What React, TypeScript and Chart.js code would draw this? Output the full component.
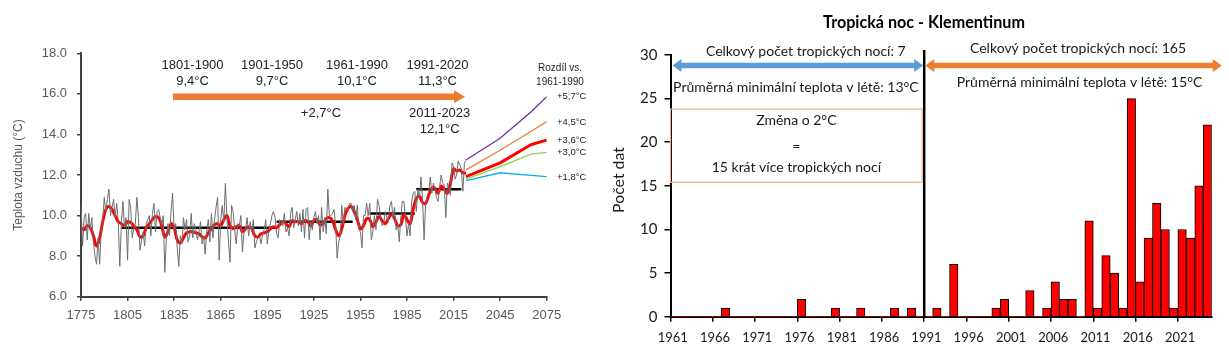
import React, { useEffect, useRef } from "react";
import { Chart, registerables } from "chart.js";

Chart.register(...registerables);

// ---------------- LEFT CHART DATA ----------------
const ANNUAL_START = 1775;
const annualTemp = [
  10.5, 8.5, 9.9, 10.1, 8.8, 10.1, 9.3, 9.9, 8.7, 8.0,
  7.6, 8.9, 7.6, 9.2, 9.8, 10.9, 10.2, 10.8, 11.3, 10.0,
  10.4, 10.8, 9.9, 10.6, 9.7, 7.5, 9.6, 10.7, 9.4, 9.9,
  7.8, 10.8, 10.4, 8.9, 9.4, 9.6, 10.9, 9.9, 8.3, 8.8,
  9.2, 8.5, 9.6, 9.8, 10.0, 9.0, 10.1, 10.6, 9.2, 10.2,
  10.3, 9.9, 9.5, 10.0, 7.2, 8.9, 9.6, 9.0, 10.2, 11.1,
  9.3, 9.6, 8.4, 7.5, 9.0, 8.6, 9.9, 9.3, 9.8, 8.7,
  9.0, 10.1, 8.9, 9.6, 9.3, 8.8, 9.2, 9.7, 8.6, 9.0,
  8.1, 9.2, 9.8, 8.7, 10.1, 8.9, 9.8, 10.4, 10.9, 7.8,
  9.8, 10.5, 9.7, 11.6, 9.9, 8.7, 7.7, 10.5, 10.2, 9.3,
  8.6, 9.6, 9.5, 10.0, 8.2, 9.2, 9.3, 9.9, 9.0, 9.7,
  9.2, 9.8, 8.4, 8.7, 8.9, 9.0, 8.6, 9.1, 9.3, 9.8,
  8.6, 9.2, 9.6, 10.0, 10.2, 9.9, 9.1, 8.9, 9.8, 9.7,
  9.5, 10.1, 9.2, 9.4, 9.0, 10.1, 10.4, 9.4, 9.8, 10.2,
  9.5, 10.1, 9.2, 10.3, 8.9, 10.3, 10.4, 8.8, 9.7, 9.3,
  9.9, 10.2, 9.6, 10.0, 8.8, 10.4, 9.2, 9.9, 9.1, 11.3,
  10.0, 10.0, 10.1, 10.3, 9.6, 7.9, 8.7, 9.0, 10.5, 9.6,
  10.4, 10.3, 10.3, 10.6, 10.6, 10.2, 10.5, 9.8, 10.5, 9.3,
  9.2, 8.4, 10.0, 10.0, 10.6, 10.0, 10.6, 8.8, 9.2, 10.0,
  9.3, 10.8, 10.5, 9.9, 9.5, 9.6, 10.2, 9.9, 9.7, 10.5,
  10.7, 9.9, 10.4, 9.3, 9.6, 8.7, 9.9, 10.7, 10.7, 9.9,
  9.0, 9.6, 9.0, 10.7, 11.1, 11.2, 10.2, 11.3, 10.8, 11.9,
  10.9, 8.8, 10.6, 10.9, 11.2, 11.9, 11.1, 11.6, 11.3, 10.9,
  10.7, 11.4, 12.0, 11.6, 11.5, 9.9, 11.6, 11.4, 11.0, 12.6,
  12.4, 11.8, 12.0, 12.7, 12.5, 12.3, 11.2, 12.6, 12.7,
];

const SMOOTH_START = 1775;
const SMOOTH_STEP = 2;
const smoothTemp = [
  9.4, 9.3, 9.5, 9.4, 9.0, 8.5, 8.9, 9.7, 10.3, 10.45,
  10.3, 10.0, 9.7, 9.6, 9.5, 9.7, 9.65, 9.5, 9.3, 8.95,
  9.0, 9.4, 9.6, 9.8, 9.95, 9.9, 9.5, 8.95, 9.2, 9.6,
  9.4, 8.8, 8.65, 8.9, 9.15, 9.2, 9.2, 9.15, 9.1, 8.95,
  8.9, 9.15, 9.35, 9.55, 9.6, 9.5, 9.8, 10.0, 9.5, 9.35,
  9.45, 9.5, 9.2, 9.35, 9.45, 9.35, 9.0, 8.95, 9.1, 9.15,
  9.2, 9.35, 9.45, 9.4, 9.55, 9.7, 9.6, 9.45, 9.75, 9.7,
  9.7, 9.6, 9.75, 9.7, 9.5, 9.75, 9.8, 9.55, 9.6, 9.85,
  9.9, 9.75, 9.3, 9.0, 9.35, 10.0, 10.35, 10.45, 10.2, 9.8,
  9.35, 9.5, 9.85, 9.8, 9.45, 9.7, 9.95, 9.75, 9.6, 9.85,
  10.05, 9.85, 9.5, 9.55, 10.05, 9.8, 9.6, 10.3, 10.85, 10.95,
  10.65, 10.6, 11.0, 11.35, 11.35, 11.1, 11.45, 11.3, 11.1, 11.6,
  12.3, 12.2, 12.25, 12.1, 12.1,
];

const periodStart = [1801, 1901, 1961, 1991];
const periodEnd = [1900, 1950, 1990, 2020];
const periodMean = [9.4, 9.7, 10.1, 11.3];

const projYears = [2023, 2045, 2065, 2075];
const projPurple = [12.74, 13.81, 15.12, 15.86];
const projOrange = [12.25, 13.22, 14.16, 14.63];
const projRed = [11.92, 12.6, 13.5, 13.72];
const projGreen = [11.8, 12.41, 13.03, 13.12];
const projBlue = [11.72, 12.11, 11.98, 11.92];
const projLabels = ["+5,7°C", "+4,5°C", "+3,6°C", "+3,0°C", "+1,8°C"];

const xTickYears = [1775, 1805, 1835, 1865, 1895, 1925, 1955, 1985, 2015, 2045, 2075];

// ---------------- RIGHT CHART DATA ----------------
const NIGHT_START = 1961;
const tropicalNights = [
  0, 0, 0, 0, 0, 0, 1, 0, 0, 0,
  0, 0, 0, 0, 0, 2, 0, 0, 0, 1,
  0, 0, 1, 0, 0, 0, 1, 0, 1, 0,
  0, 1, 0, 6, 0, 0, 0, 0, 1, 2,
  0, 0, 3, 0, 1, 4, 2, 2, 0, 11,
  1, 7, 5, 1, 25, 4, 9, 13, 10, 1,
  10, 9, 15, 22,
];
const nightYears = tropicalNights.map((_, i) => String(NIGHT_START + i));

// ---------------- HELPERS ----------------
const SANS = "'Liberation Sans', Arial, sans-serif";
const CAL = "Lato, 'Open Sans', sans-serif";

function drawArrow(ctx: CanvasRenderingContext2D, x1: number, x2: number, y: number, shaft: number, headLen: number, headHalf: number, color: string, both: boolean) {
  ctx.fillStyle = color;
  ctx.beginPath();
  ctx.moveTo(x2, y);
  ctx.lineTo(x2 - headLen, y - headHalf);
  ctx.lineTo(x2 - headLen, y - shaft / 2);
  if (both) {
    ctx.lineTo(x1 + headLen, y - shaft / 2);
    ctx.lineTo(x1 + headLen, y - headHalf);
    ctx.lineTo(x1, y);
    ctx.lineTo(x1 + headLen, y + headHalf);
    ctx.lineTo(x1 + headLen, y + shaft / 2);
  } else {
    ctx.lineTo(x1, y - shaft / 2);
    ctx.lineTo(x1, y + shaft / 2);
  }
  ctx.lineTo(x2 - headLen, y + shaft / 2);
  ctx.lineTo(x2 - headLen, y + headHalf);
  ctx.closePath();
  ctx.fill();
}

function txt(ctx: CanvasRenderingContext2D, s: string, x: number, y: number, font: string, color: string, align: CanvasTextAlign = "center") {
  ctx.font = font;
  ctx.fillStyle = color;
  ctx.textAlign = align;
  ctx.textBaseline = "middle";
  ctx.fillText(s, x, y);
}

function fitSize(ctx: CanvasRenderingContext2D, s: string, target: number, weight: string, family: string) {
  ctx.font = `${weight} 20px ${family}`;
  const w = ctx.measureText(s).width;
  return (20 * target) / w;
}

// ---------------- PLUGINS ----------------
const leftAnnot = {
  id: "leftAnnot",
  afterDraw(chart: any) {
    const { ctx, chartArea } = chart;
    ctx.save();
    ctx.save();
    ctx.translate(18.5, (chartArea.top + chartArea.bottom) / 2);
    ctx.rotate(-Math.PI / 2);
    txt(ctx, "Teplota vzduchu (°C)", 0, 0, `12px ${SANS}`, "#595959");
    ctx.restore();

    drawArrow(ctx, 173, 465, 96.7, 6.5, 11, 6.5, "#ed7d31", false);

    const c = "#222222";
    const f = `13px ${SANS}`;
    txt(ctx, "1801-1900", 192.5, 65, f, c);
    txt(ctx, "9,4°C", 192.5, 81.7, f, c);
    txt(ctx, "1901-1950", 272, 65, f, c);
    txt(ctx, "9,7°C", 272, 81.7, f, c);
    txt(ctx, "1961-1990", 357, 65, f, c);
    txt(ctx, "10,1°C", 357, 81.7, f, c);
    txt(ctx, "1991-2020", 437.5, 65, f, c);
    txt(ctx, "11,3°C", 437.5, 81.7, f, c);
    txt(ctx, "+2,7°C", 321, 113.3, f, c);
    txt(ctx, "2011-2023", 439.7, 113.3, f, c);
    txt(ctx, "12,1°C", 439.7, 129.3, f, c);

    txt(ctx, "Rozdíl vs.", 560, 68, `10px ${SANS}`, c);
    txt(ctx, "1961-1990", 560, 82.5, `10px ${SANS}`, c);

    const ly = [96.7, 122.7, 140, 152.7, 177.7];
    projLabels.forEach((l, i) => txt(ctx, l, 557, ly[i], `9.5px ${SANS}`, c, "left"));
    ctx.restore();
  },
};

const rightAnnot = {
  id: "rightAnnot",
  afterDraw(chart: any) {
    const { ctx, chartArea, scales } = chart;
    const x = scales.x;
    const y = scales.y;
    const bx = (x.getPixelForValue(29) + x.getPixelForValue(30)) / 2;
    ctx.save();
    ctx.strokeStyle = "#000";
    ctx.lineWidth = 2.5;
    ctx.beginPath();
    ctx.moveTo(bx, chartArea.top - 5);
    ctx.lineTo(bx, chartArea.bottom);
    ctx.stroke();

    const ay = y.getPixelForValue(28.8);
    drawArrow(ctx, chartArea.left + 2, bx - 1, ay, 5.5, 9, 6.5, "#5b9bd5", true);
    drawArrow(ctx, bx + 1, chartArea.right + 10, ay, 5.5, 9, 6.5, "#ed7d31", true);

    const bt = y.getPixelForValue(23.8);
    const bb = y.getPixelForValue(15.4);
    ctx.strokeStyle = "#f4b183";
    ctx.lineWidth = 1.2;
    ctx.strokeRect(chartArea.left, bt, bx - 2 - chartArea.left, bb - bt);

    const col = "#1a1a1a";
    const s = fitSize(ctx, "Průměrná minimální teplota v létě: 13°C", 246, "normal", CAL);
    const f = `${s}px ${CAL}`;
    txt(ctx, "Celkový počet tropických nocí: 7", 195.8, 51.7, f, col);
    txt(ctx, "Průměrná minimální teplota v létě: 13°C", 185.9, 87.3, f, col);
    txt(ctx, "Celkový počet tropických nocí: 165", 468, 48.3, f, col);
    txt(ctx, "Průměrná minimální teplota v létě: 15°C", 469.5, 82.3, f, col);

    const bc = (chartArea.left + bx - 2) / 2;
    txt(ctx, "Změna o 2°C", bc, bt + 11.3, f, col);
    txt(ctx, "=", bc, bt + 37.4, f, col);
    txt(ctx, "15 krát více tropických nocí", bc, bt + 58, f, col);

    const ts = fitSize(ctx, "Tropická noc - Klementinum", 202, "bold", CAL);
    txt(ctx, "Tropická noc - Klementinum", 314, 23, `bold ${ts}px ${CAL}`, "#000");

    const ps = fitSize(ctx, "Počet dat", 66, "normal", CAL);
    ctx.save();
    ctx.translate(8.5, 180);
    ctx.rotate(-Math.PI / 2);
    txt(ctx, "Počet dat", 0, 0, `${ps}px ${CAL}`, col);
    ctx.restore();
    ctx.restore();
  },
};

// ---------------- CONFIGS ----------------
function leftConfig(): any {
  const lineDs = (data: any[], color: string, width: number) => ({
    data,
    borderColor: color,
    borderWidth: width,
    pointRadius: 0,
    fill: false,
    tension: 0,
  });
  const proj = (vals: number[]) => vals.map((v, i) => ({ x: projYears[i], y: v }));
  const datasets: any[] = [
    lineDs(annualTemp.map((v, i) => ({ x: ANNUAL_START + i, y: v })), "#6e6e6e", 1),
    { ...lineDs(smoothTemp.map((v, i) => ({ x: SMOOTH_START + i * SMOOTH_STEP, y: v })), "#ff0000", 3), tension: 0.4 },
  ];
  periodMean.forEach((m, i) => {
    datasets.push(lineDs([{ x: periodStart[i], y: m }, { x: periodEnd[i], y: m }], "#000000", 2.5));
  });
  datasets.push(lineDs(proj(projPurple), "#7030a0", 1.3));
  datasets.push(lineDs(proj(projOrange), "#ed7d31", 1.3));
  datasets.push(lineDs(proj(projGreen), "#92d050", 1.3));
  datasets.push(lineDs(proj(projBlue), "#00b0f0", 1.3));
  datasets.push(lineDs(proj(projRed), "#ff0000", 3));

  return {
    type: "line",
    data: { datasets },
    options: {
      animation: false,
      responsive: false,
      layout: { padding: { left: 0, right: 63.3, top: 53.3, bottom: 37.3 } },
      plugins: { legend: { display: false }, tooltip: { enabled: false } },
      scales: {
        x: {
          type: "linear",
          min: 1775,
          max: 2075,
          afterBuildTicks: (scale: any) => {
            scale.ticks = xTickYears.map((v) => ({ value: v }));
          },
          afterFit: (scale: any) => {
            scale.height = 30;
          },
          ticks: {
            color: "#595959",
            font: { family: SANS, size: 13 },
            padding: 7,
            maxRotation: 0,
            autoSkip: false,
            callback: (v: any) => String(v),
          },
          grid: { drawOnChartArea: false, tickLength: 4, color: "#404040", lineWidth: 1.5 },
          border: { color: "#404040", width: 2 },
        },
        y: {
          min: 6,
          max: 18,
          afterFit: (scale: any) => {
            scale.width = 81;
          },
          ticks: {
            stepSize: 2,
            color: "#595959",
            font: { family: SANS, size: 13 },
            padding: 10,
            callback: (v: any) => Number(v).toFixed(1),
          },
          grid: { drawOnChartArea: false, tickLength: 4, color: "#404040", lineWidth: 1.5 },
          border: { color: "#404040", width: 2 },
        },
      },
    },
    plugins: [leftAnnot],
  };
}

function rightConfig(): any {
  return {
    type: "bar",
    data: {
      labels: nightYears,
      datasets: [
        {
          data: tropicalNights,
          backgroundColor: "#ff0000",
          borderColor: "#000000",
          borderWidth: (ctx: any) => (ctx.raw > 0 ? 1 : 0),
          barPercentage: 1,
          categoryPercentage: 1,
        },
      ],
    },
    options: {
      animation: false,
      responsive: false,
      layout: { padding: { left: 0, right: 17.3, top: 55, bottom: 17.3 } },
      plugins: { legend: { display: false }, tooltip: { enabled: false } },
      scales: {
        x: {
          type: "category",
          afterFit: (scale: any) => {
            scale.height = 30;
          },
          ticks: {
            autoSkip: false,
            maxRotation: 0,
            color: "#1a1a1a",
            font: { family: CAL, size: 13 },
            padding: 8,
            labelOffset: -2,
            callback: (_v: any, i: number) => (i % 5 === 0 ? nightYears[i] : ""),
          },
          grid: {
            offset: true,
            drawOnChartArea: false,
            tickLength: 5,
            lineWidth: 1.5,
            color: (ctx: any) => (ctx.index % 5 === 0 ? "#000000" : "rgba(0,0,0,0)"),
          },
          border: { color: "#000000", width: 2 },
        },
        y: {
          min: 0,
          max: 30,
          afterFit: (scale: any) => {
            scale.width = 60.5;
          },
          ticks: {
            stepSize: 5,
            color: "#1a1a1a",
            font: { family: CAL, size: 15 },
            padding: 7,
          },
          grid: { drawOnChartArea: false, tickLength: 6, color: "#000000", lineWidth: 1.5 },
          border: { color: "#000000", width: 2 },
        },
      },
    },
    plugins: [rightAnnot],
  };
}

export default function App() {
  const leftRef = useRef<HTMLCanvasElement>(null);
  const rightRef = useRef<HTMLCanvasElement>(null);

  useEffect(() => {
    const c1 = new Chart(leftRef.current as HTMLCanvasElement, leftConfig());
    const c2 = new Chart(rightRef.current as HTMLCanvasElement, rightConfig());
    return () => {
      c1.destroy();
      c2.destroy();
    };
  }, []);

  return (
    <div style={{ position: "absolute", left: 0, top: 0, width: 1229, height: 364, background: "#ffffff" }}>
      <canvas ref={leftRef} width={610} height={364} style={{ position: "absolute", left: 0, top: 0, width: 610, height: 364 }} />
      <canvas ref={rightRef} width={619} height={364} style={{ position: "absolute", left: 610, top: 0, width: 619, height: 364 }} />
    </div>
  );
}
